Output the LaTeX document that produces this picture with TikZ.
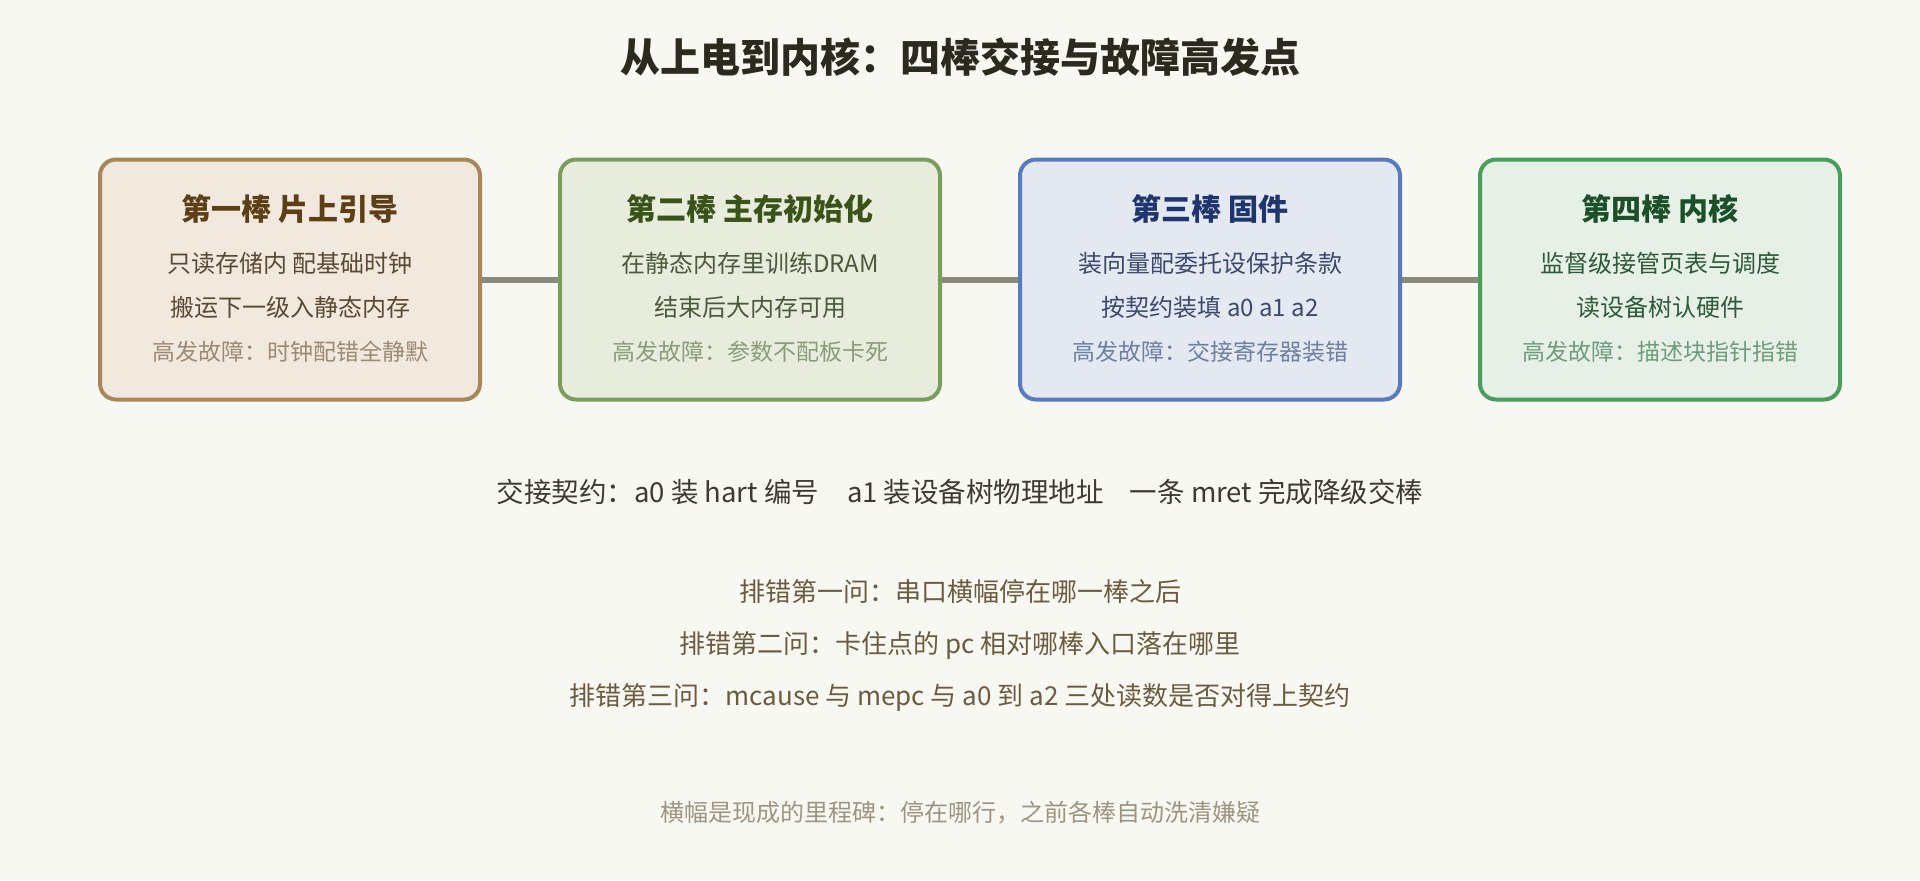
\documentclass[tikz,border=0pt]{standalone}
\usepackage{fontspec}
\setmainfont{Noto Sans CJK SC}
\usepackage{xcolor}
\usetikzlibrary{positioning}

\definecolor{bgcol}{HTML}{F8F8F3}
\definecolor{titlecol}{HTML}{2B2A1F}
\definecolor{linkcol}{HTML}{8B8A78}
\definecolor{dealcol}{HTML}{3D3A30}
\definecolor{askcol}{HTML}{6B5B40}
\definecolor{footcol}{HTML}{9E9482}
% box colours
\definecolor{b1fill}{HTML}{F1E8DE}
\definecolor{b1draw}{HTML}{A8865A}
\definecolor{b1head}{HTML}{5C3F14}
\definecolor{b1body}{HTML}{5B4A33}
\definecolor{b1fault}{HTML}{9C8A75}
\definecolor{b2fill}{HTML}{E8ECDD}
\definecolor{b2draw}{HTML}{7A9C5C}
\definecolor{b2head}{HTML}{3A5319}
\definecolor{b2body}{HTML}{4B5A3C}
\definecolor{b2fault}{HTML}{8A9C7A}
\definecolor{b3fill}{HTML}{E4E8F1}
\definecolor{b3draw}{HTML}{5A7BBB}
\definecolor{b3head}{HTML}{1E356E}
\definecolor{b3body}{HTML}{3B4A6B}
\definecolor{b3fault}{HTML}{6F7FA0}
\definecolor{b4fill}{HTML}{E6F0E6}
\definecolor{b4draw}{HTML}{4A9E5C}
\definecolor{b4head}{HTML}{1B5028}
\definecolor{b4body}{HTML}{2F5A3A}
\definecolor{b4fault}{HTML}{6F9C7C}

\tikzset{
    baton/.style={draw,line width=2pt,rounded corners=8pt,minimum width=190pt,minimum height=120pt},
    link/.style={line width=3pt,color=linkcol},
    head/.style={font=\fontsize{15}{18}\selectfont\bfseries},
    body/.style={font=\fontsize{12}{14}\selectfont},
    fault/.style={font=\fontsize{11.5}{14}\selectfont},
    ask/.style={text=askcol,font=\fontsize{13}{16}\selectfont}
}

\begin{document}
\begin{tikzpicture}[x=0.5pt,y=-0.5pt]
    % page
    \fill[bgcol] (0,0) rectangle (1920,880);
    \useasboundingbox (0,0) rectangle (1920,880);

    % title
    \node[text=titlecol,font=\fontsize{20}{24}\selectfont\bfseries] (title) at (960,57) {从上电到内核：四棒交接与故障高发点};

    % draw the four boxes
    \node[baton,draw=b1draw,fill=b1fill] (b1) at (290,279.5) {};
    \node[baton,draw=b2draw,fill=b2fill] (b2) at (750,279.5) {};
    \node[baton,draw=b3draw,fill=b3fill] (b3) at (1210,279.5) {};
    \node[baton,draw=b4draw,fill=b4fill,minimum width=180pt] (b4) at (1660,279.5) {};

    % join the boxes
    \foreach \a/\b in {b1/b2,b2/b3,b3/b4}
        \draw[link] (\a) -- (\b);

    % first box
    \node[head,text=b1head,yshift=35.25pt] (b1h) at (b1) {第一棒 片上引导};
    \node[body,text=b1body,yshift=8.25pt] (b1a) at (b1) {只读存储内 配基础时钟};
    \node[body,text=b1body,yshift=-13.75pt] (b1b) at (b1) {搬运下一级入静态内存};
    \node[fault,text=b1fault,yshift=-36.25pt] (b1f) at (b1) {高发故障：时钟配错全静默};

    % second box
    \node[head,text=b2head,yshift=35.25pt] (b2h) at (b2) {第二棒 主存初始化};
    \node[body,text=b2body,yshift=8.25pt] (b2a) at (b2) {在静态内存里训练DRAM};
    \node[body,text=b2body,yshift=-13.75pt] (b2b) at (b2) {结束后大内存可用};
    \node[fault,text=b2fault,yshift=-36.25pt] (b2f) at (b2) {高发故障：参数不配板卡死};

    % third box
    \node[head,text=b3head,yshift=35.25pt] (b3h) at (b3) {第三棒 固件};
    \node[body,text=b3body,yshift=8.25pt] (b3a) at (b3) {装向量配委托设保护条款};
    \node[body,text=b3body,yshift=-13.75pt] (b3b) at (b3) {按契约装填 a0 a1 a2};
    \node[fault,text=b3fault,yshift=-36.25pt] (b3f) at (b3) {高发故障：交接寄存器装错};

    % fourth box
    \node[head,text=b4head,yshift=35.25pt] (b4h) at (b4) {第四棒 内核};
    \node[body,text=b4body,yshift=8.25pt] (b4a) at (b4) {监督级接管页表与调度};
    \node[body,text=b4body,yshift=-13.75pt] (b4b) at (b4) {读设备树认硬件};
    \node[fault,text=b4fault,yshift=-36.25pt] (b4f) at (b4) {高发故障：描述块指针指错};

    % handover contract
    \node[text=dealcol,font=\fontsize{13.75}{16}\selectfont] (deal) at (960,491.7) {交接契约：a0 装 hart 编号\hspace{14pt}a1 装设备树物理地址\hspace{13pt}一条 mret 完成降级交棒};

    % the three questions
    \node[ask] (q1) at (960,592) {排错第一问：串口横幅停在哪一棒之后};
    \node[ask] (q2) at (960,645) {排错第二问：卡住点的 pc 相对哪棒入口落在哪里};
    \node[ask] (q3) at (960,697) {排错第三问：mcause 与 mepc 与 a0 到 a2 三处读数是否对得上契约};

    % footer
    \node[text=footcol,font=\fontsize{12}{14}\selectfont] (foot) at (960,812.7) {横幅是现成的里程碑：停在哪行，之前各棒自动洗清嫌疑};
\end{tikzpicture}
\end{document}
